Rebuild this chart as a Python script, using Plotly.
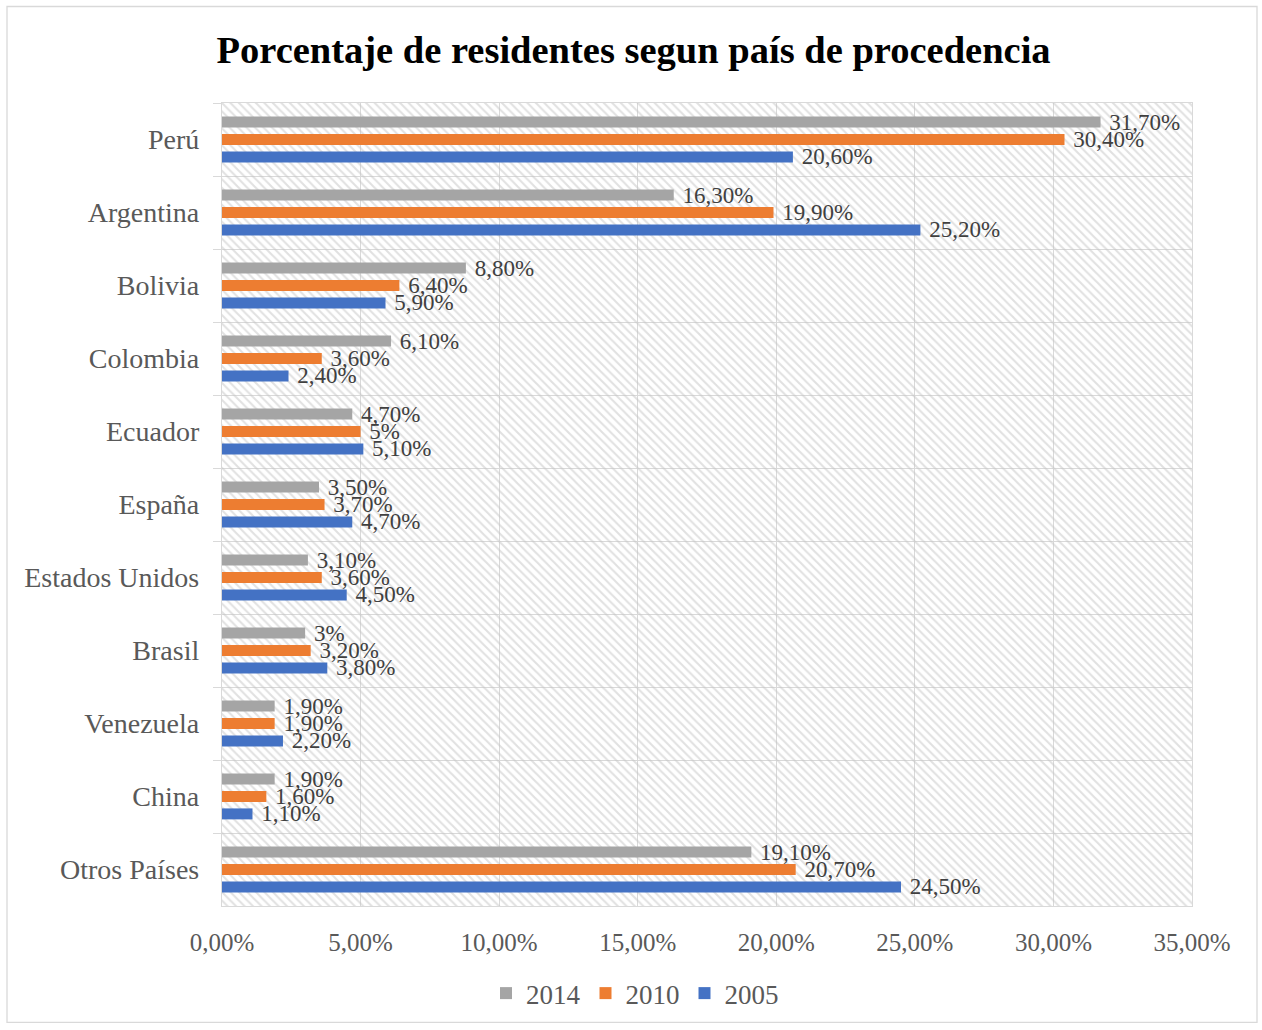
import plotly.graph_objects as go

categories = ["Perú", "Argentina", "Bolivia", "Colombia", "Ecuador", "España",
              "Estados Unidos", "Brasil", "Venezuela", "China", "Otros Países"]
years = ["2014", "2010", "2005"]
v2014 = [31.7, 16.3, 8.8, 6.1, 4.7, 3.5, 3.1, 3.0, 1.9, 1.9, 19.1]
v2010 = [30.4, 19.9, 6.4, 3.6, 5.0, 3.7, 3.6, 3.2, 1.9, 1.6, 20.7]
v2005 = [20.6, 25.2, 5.9, 2.4, 5.1, 4.7, 4.5, 3.8, 2.2, 1.1, 24.5]
series = [v2014, v2010, v2005]
colors = ["#A5A5A5", "#ED7D31", "#4472C4"]
x_ticks = [0, 5, 10, 15, 20, 25, 30, 35]
x_ticktext = ["0,00%", "5,00%", "10,00%", "15,00%", "20,00%", "25,00%", "30,00%", "35,00%"]

FONT = "Liberation Serif"


def fmt(v):
    if abs(v - round(v)) < 1e-9:
        return f" {int(round(v))}%"
    return " " + f"{v:.2f}".replace(".", ",") + "%"


fig = go.Figure()

# hatched plot-area background (base subplot, drawn beneath the bars)
fig.add_trace(go.Scatter(
    x=[0, 1, 1, 0, 0], y=[0, 0, 1, 1, 0], xaxis="x", yaxis="y",
    mode="none", fill="toself", fillcolor="rgba(0,0,0,0)",
    fillpattern=dict(shape="\\", fgcolor="#c4c4c4", bgcolor="rgba(0,0,0,0)",
                     size=6, solidity=0.35),
    hoverinfo="skip", showlegend=False,
))

for name, vals, col in zip(years, series, colors):
    fig.add_trace(go.Bar(
        name=name, y=categories, x=vals, orientation="h",
        xaxis="x2", yaxis="y2",
        marker=dict(color=col, line=dict(width=0)),
        text=[fmt(v) for v in vals], textposition="outside",
        constraintext="none", cliponaxis=False,
        textfont=dict(family=FONT, size=23, color="#404040"),
    ))

fig.update_layout(
    width=1262, height=1030,
    margin=dict(l=222, r=70, t=103, b=120),
    paper_bgcolor="white", plot_bgcolor="white",
    barmode="group", bargap=0.285, bargroupgap=0.37,
    title=dict(text="<b>Porcentaje de residentes segun país de procedencia</b>",
               x=0.502, xref="container", y=1 - 50 / 1030, yref="container",
               xanchor="center", yanchor="middle",
               font=dict(family=FONT, size=38.5, color="#000000")),
    xaxis=dict(domain=[0, 1], range=[0, 1], visible=False, fixedrange=True),
    yaxis=dict(domain=[0, 1], range=[0, 1], visible=False, fixedrange=True),
    xaxis2=dict(overlaying="x", anchor="y2", range=[0, 35],
                tickmode="array", tickvals=x_ticks, ticktext=x_ticktext,
                showgrid=True, gridcolor="#d9d9d9", gridwidth=1.3,
                showline=True, mirror=True, linecolor="#d9d9d9", linewidth=1.3,
                zeroline=False, ticks="", ticklabelstandoff=14,
                tickfont=dict(family=FONT, size=25, color="#595959")),
    yaxis2=dict(overlaying="y", anchor="x2", type="category",
                categoryorder="array", categoryarray=categories,
                autorange="reversed", tickson="boundaries",
                ticks="outside", ticklen=8, tickcolor="#d9d9d9", tickwidth=1.3,
                showgrid=True, gridcolor="#d9d9d9", gridwidth=1.3,
                showline=True, mirror=True, linecolor="#d9d9d9", linewidth=1.3,
                ticklabelstandoff=16,
                tickfont=dict(family=FONT, size=28, color="#595959")),
    legend=dict(orientation="h", x=(635 - 222) / 970, xanchor="center",
                y=-(998 - 910) / 807, yanchor="middle",
                font=dict(family=FONT, size=27, color="#595959"),
                itemwidth=30, traceorder="normal"),
    shapes=[dict(type="rect", xref="paper", yref="paper",
                 x0=(7 - 222) / 970, x1=(1257 - 222) / 970,
                 y0=-(1027 - 910) / 807, y1=1 + (103 - 6) / 807,
                 line=dict(color="#d9d9d9", width=1.3), fillcolor="rgba(0,0,0,0)",
                 layer="below")],
)

fig.write_html("out.html", config={"displayModeBar": False},
               post_script="document.body.style.margin='0';document.body.style.padding='0';")
